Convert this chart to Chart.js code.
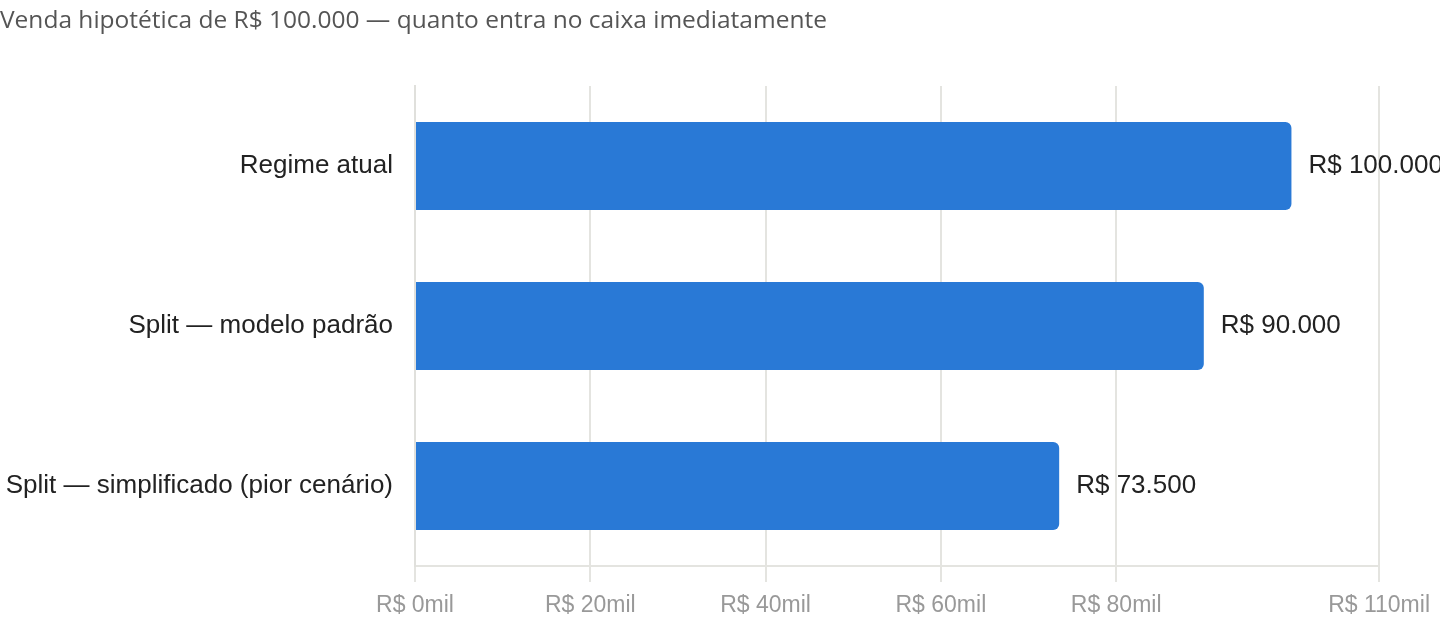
<!DOCTYPE html>
<html><head><meta charset="utf-8">
<script src="https://cdn.jsdelivr.net/npm/chart.js@4"></script>
<style>
html,body{margin:0;padding:0;background:#fff;width:1440px;height:624px;overflow:hidden}
#t{position:absolute;left:0;top:2px;font-family:"Open Sans",sans-serif;font-size:24.5px;color:#555;white-space:nowrap}
#w{position:absolute;left:0;top:0;width:1440px;height:624px}
</style></head><body>
<div id="w"><canvas id="c" width="1440" height="624"></canvas></div>
<div id="t">Venda hipotética de R$ 100.000 — quanto entra no caixa imediatamente</div>
<script>
const categories = ["Regime atual", "Split — modelo padrão", "Split — simplificado (pior cenário)"];
const values = [100000, 90000, 73500];
const valueLabels = ["R$ 100.000", "R$ 90.000", "R$ 73.500"];
const tickValues = [0, 20000, 40000, 60000, 80000, 110000];
const axisMax = 110000;

const labelPlugin = {
  id: 'valLabels',
  afterDatasetsDraw(chart) {
    const ctx = chart.ctx;
    const meta = chart.getDatasetMeta(0);
    ctx.save();
    ctx.font = '26px "Liberation Sans", Arial, sans-serif';
    ctx.fillStyle = '#222';
    ctx.textAlign = 'left';
    ctx.textBaseline = 'middle';
    meta.data.forEach((bar, i) => {
      ctx.fillText(valueLabels[i], bar.x + 17, bar.y);
    });
    ctx.restore();
  }
};

new Chart(document.getElementById('c'), {
  type: 'bar',
  data: {
    labels: categories,
    datasets: [{
      data: values,
      backgroundColor: '#2979d6',
      borderRadius: 6,
      borderSkipped: 'start',
      barPercentage: 0.55,
      categoryPercentage: 1
    }]
  },
  options: {
    indexAxis: 'y',
    responsive: false,
    animation: false,
    layout: { padding: { top: 86, right: 58, left: 0, bottom: 0 } },
    plugins: { legend: { display: false }, tooltip: { enabled: false } },
    scales: {
      x: {
        min: 0, max: axisMax,
        afterBuildTicks: s => { s.ticks = tickValues.map(v => ({ value: v })); },
        ticks: {
          autoSkip: false,
          color: '#999',
          font: { family: '"Liberation Sans", Arial, sans-serif', size: 23 },
          padding: 10,
          maxRotation: 0,
          callback: v => 'R$ ' + (v / 1000) + 'mil'
        },
        grid: { color: '#e4e4e0', lineWidth: 2, tickLength: 16 },
        border: { color: '#e4e4e0', width: 2 },
        afterFit: s => { s.height = 58; }
      },
      y: {
        ticks: {
          color: '#222',
          font: { family: '"Liberation Sans", Arial, sans-serif', size: 26 },
          padding: 22
        },
        grid: { display: false, drawTicks: false },
        border: { display: true, color: '#e0e0dc', width: 2 },
        afterFit: s => { s.width = 415; }
      }
    }
  },
  plugins: [labelPlugin]
});
</script>
</body></html>
